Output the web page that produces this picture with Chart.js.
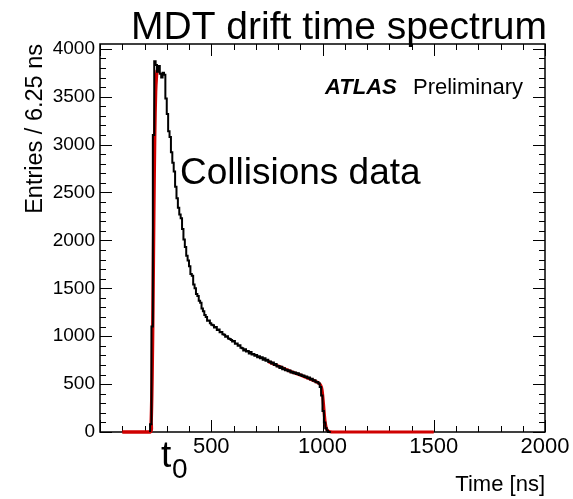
<!DOCTYPE html>
<html>
<head>
<meta charset="utf-8">
<script src="https://cdn.jsdelivr.net/npm/chart.js@4.4.1/dist/chart.umd.min.js"></script>
<style>
  html, body { margin: 0; padding: 0; background: #fff; }
  #wrap { width: 573px; height: 499px; }
</style>
</head>
<body>
<div id="wrap"><canvas id="chart" width="573" height="499"></canvas></div>
<script>
// histogram: entries per 6.25 ns bin, first bin starts at 225 ns
const binWidth = 6.25;
const firstEdge = 225;
const counts = [
    0, 80, 1100, 3100, 3870, 3830, 3760, 3820, 3740, 3700, 3750, 3730,
    3480, 3320, 3140, 3080, 2920, 2810, 2720, 2560, 2440, 2340, 2270, 2230,
    2120, 2010, 1930, 1840, 1790, 1730, 1650, 1630, 1540, 1500, 1440, 1420,
    1370, 1350, 1290, 1260, 1220, 1200, 1160, 1165, 1135, 1120, 1115, 1090,
    1095, 1065, 1070, 1040, 1045, 1020, 1015, 995, 1000, 975, 970, 960,
    945, 950, 920, 925, 900, 905, 880, 875, 850, 865, 840, 845,
    820, 835, 810, 815, 795, 805, 780, 790, 770, 780, 755, 770,
    745, 755, 730, 735, 715, 725, 700, 710, 685, 690, 668, 680,
    655, 665, 645, 650, 635, 642, 622, 630, 612, 620, 605, 612,
    596, 600, 585, 590, 574, 580, 562, 568, 548, 556, 535, 540,
    520, 522, 505, 470, 380, 220, 100, 40, 12, 0
];

// t0 fit (rising edge)
const riseTime = [100, 226, 230, 234, 238, 242, 246, 250, 254, 257];
const riseValue = [0, 0, 100, 550, 1300, 2300, 3100, 3550, 3720, 3780];

// tmax fit (trailing edge)
const tailTime = [756, 800, 850, 900, 950, 980, 990, 996, 1000, 1004, 1008, 1012, 1018, 1025, 1035, 1045, 1500];
const tailValue = [735, 690, 640, 594, 548, 515, 495, 460, 400, 300, 190, 100, 35, 10, 2, 0, 0];

const yTicks = [0, 500, 1000, 1500, 2000, 2500, 3000, 3500, 4000];
const xTicks = [500, 1000, 1500, 2000];

const FONT = '"Liberation Sans", Arial, Helvetica, sans-serif';
const RED = '#d00000';

/* -------------------------------------------------------------------------- */

const histPoints = counts.map((c, i) => ({ x: firstEdge + i * binWidth, y: c }));
histPoints.push({ x: firstEdge + counts.length * binWidth, y: 0 });

const risePoints = riseTime.map((t, i) => ({ x: t, y: riseValue[i] }));
const tailPoints = tailTime.map((t, i) => ({ x: t, y: tailValue[i] }));

//? frame + inward ticks, ROOT style
const framePlugin = {
    id: 'rootFrame',
    beforeDatasetsDraw(chart) {
        const { ctx, chartArea: a, scales: { x, y } } = chart;
        ctx.save();
        ctx.strokeStyle = '#000';
        ctx.lineWidth = 1;
        ctx.beginPath();
        for (let v = 0; v <= 2000; v += 100) {
            const px = Math.round(x.getPixelForValue(v)) + 0.5;
            const len = v % 500 === 0 ? 12 : 6;
            ctx.moveTo(px, a.bottom); ctx.lineTo(px, a.bottom - len);
            ctx.moveTo(px, a.top); ctx.lineTo(px, a.top + len);
        }
        for (let v = 0; v <= 4000; v += 100) {
            const py = Math.round(y.getPixelForValue(v)) + 0.5;
            const len = v % 500 === 0 ? 12 : 6;
            ctx.moveTo(a.left, py); ctx.lineTo(a.left + len, py);
            ctx.moveTo(a.right, py); ctx.lineTo(a.right - len, py);
        }
        ctx.stroke();
        ctx.lineWidth = 1.5;
        ctx.strokeRect(a.left, a.top, a.right - a.left, a.bottom - a.top);
        ctx.restore();
    },
    afterDraw(chart) {
        const { ctx } = chart;
        ctx.save();
        ctx.fillStyle = '#000';
        ctx.textBaseline = 'alphabetic';
        ctx.textAlign = 'left';
        ctx.font = `39px ${FONT}`;
        ctx.fillText('MDT drift time spectrum', 131, 39);
        ctx.font = `italic bold 22px ${FONT}`;
        ctx.fillText('ATLAS', 325, 94);
        ctx.font = `22px ${FONT}`;
        ctx.fillText('Preliminary', 413, 94);
        ctx.font = `37px ${FONT}`;
        ctx.fillText('Collisions data', 180, 184);
        ctx.font = `37px ${FONT}`;
        ctx.fillText('t', 161, 467);
        ctx.font = `28px ${FONT}`;
        ctx.fillText('0', 172, 478);
        ctx.restore();
    }
};

new Chart('chart', {
    type: 'line',
    data: {
        datasets: [{
            label: 'data',
            data: histPoints,
            stepped: 'after',
            borderColor: '#000',
            borderWidth: 2,
            pointRadius: 0,
            fill: false,
            clip: false
        }, {
            label: 't0 fit',
            data: risePoints,
            borderColor: RED,
            borderWidth: 3.4,
            pointRadius: 0,
            tension: 0.3,
            fill: false,
            clip: false
        }, {
            label: 'tmax fit',
            data: tailPoints,
            borderColor: RED,
            borderWidth: 3.2,
            pointRadius: 0,
            tension: 0.3,
            fill: false,
            clip: false
        }]
    },
    options: {
        responsive: false,
        animation: false,
        layout: { padding: { top: 44, right: 28, left: 0, bottom: 0 }, autoPadding: false },
        plugins: {
            legend: { display: false },
            tooltip: { enabled: false }
        },
        scales: {
            x: {
                type: 'linear',
                min: 0,
                max: 2000,
                afterFit: (scale) => { scale.height = 67; },
                afterBuildTicks: (scale) => { scale.ticks = xTicks.map(v => ({ value: v })); },
                grid: { display: false, drawTicks: false },
                border: { display: false },
                ticks: {
                    color: '#000',
                    font: { family: FONT, size: 22 },
                    padding: 2,
                    maxRotation: 0,
                    callback: (v) => String(v)
                },
                title: {
                    display: true,
                    text: 'Time [ns]',
                    align: 'end',
                    color: '#000',
                    font: { family: FONT, size: 22 },
                    padding: { top: 0, bottom: 1 }
                }
            },
            y: {
                type: 'linear',
                min: 0,
                max: 4050,
                afterFit: (scale) => { scale.width = 100; },
                afterBuildTicks: (scale) => { scale.ticks = yTicks.map(v => ({ value: v })); },
                grid: { display: false, drawTicks: false },
                border: { display: false },
                ticks: {
                    color: '#000',
                    font: { family: FONT, size: 19 },
                    padding: 5,
                    callback: (v) => String(v)
                },
                title: {
                    display: true,
                    text: 'Entries / 6.25 ns',
                    align: 'end',
                    color: '#000',
                    font: { family: FONT, size: 23.5 },
                    padding: { top: 21, bottom: 0 }
                }
            }
        }
    },
    plugins: [framePlugin]
});
</script>
</body>
</html>
